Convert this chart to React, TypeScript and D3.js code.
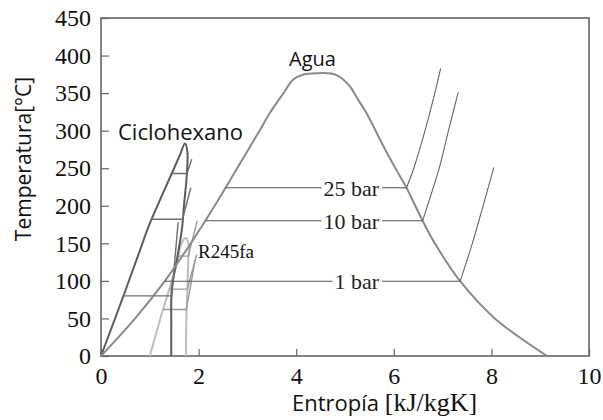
import React, { useEffect, useRef } from 'react';
import * as d3 from 'd3';

// Agua: saturation dome (s in kJ/kgK, T in °C)
const aguaDomeS = [0, 0.70, 1.31, 1.84, 2.33, 2.79, 3.25, 3.46, 3.74, 3.94, 4.15, 4.45, 4.72, 4.86, 5.10, 5.27, 5.44, 5.58, 5.75, 5.94, 6.13, 6.26, 6.59, 6.84, 7.36, 8.07, 9.14];
const aguaDomeT = [0, 50, 100, 150, 200, 250, 300, 323.5, 350, 368, 374.7, 376.5, 376, 373, 359, 341, 323.6, 306, 284, 261, 239, 224, 180, 150, 99.6, 50, 0];

// Agua isobars
const isoLabels = ['25 bar', '10 bar', '1 bar'];
const isoT = [224, 180, 99.6];
const isoSf = [2.55, 2.14, 1.30];
const isoSg = [6.26, 6.59, 7.36];
const isoLabelEndS = [5.70, 5.70, 5.70];
const sh25S = [6.26, 6.41, 6.64, 6.84, 6.96];
const sh25T = [224, 250, 300, 350, 383];
const sh10S = [6.59, 6.69, 6.93, 7.12, 7.32];
const sh10T = [180, 200, 250, 300, 351];
const sh1S = [7.36, 7.61, 7.83, 8.05];
const sh1T = [99.6, 150, 200, 251];

// Ciclohexano
const chDomeS = [0, 0.46, 0.80, 0.99, 1.45, 1.62, 1.72, 1.77, 1.76, 1.70, 1.66, 1.56, 1.45, 1.44, 1.44];
const chDomeT = [0, 80, 141, 175, 243, 268, 283, 272, 243, 200, 170, 130, 88, 40, 0];
const chIsoT = [243, 182, 80];
const chIsoL = [1.45, 1.03, 0.46];
const chIsoV = [1.76, 1.67, 1.45];
const chShS = [1.86, 1.84, 1.58];
const chShT = [262, 224, 178];

// R245fa
const rDomeS = [1.00, 1.13, 1.27, 1.40, 1.56, 1.64, 1.73, 1.80, 1.79, 1.77, 1.75, 1.74];
const rDomeT = [0, 30, 62, 89, 125, 148, 157, 148, 130, 89, 50, 0];
const rIsoT = [133, 89, 62];
const rIsoL = [1.57, 1.40, 1.27];
const rIsoV = [1.79, 1.77, 1.75];
const rShS = [1.97, 1.96, 1.93];
const rShT = [180, 135, 128];

const xTicks = [0, 2, 4, 6, 8, 10];
const yTicks = [0, 50, 100, 150, 200, 250, 300, 350, 400, 450];

const zip = (s: number[], t: number[]): [number, number][] => s.map((v, i) => [v, t[i]]);

const App = () => {
  const ref = useRef<SVGSVGElement>(null);

  useEffect(() => {
    const svg = d3.select(ref.current);
    svg.selectAll('*').remove();

    const x = d3.scaleLinear().domain([0, 10]).range([101, 589]);
    const y = d3.scaleLinear().domain([0, 450]).range([356, 18]);
    const serif = '"Liberation Serif", "Times New Roman", serif';
    const sans = '"Open Sans", sans-serif';

    const smooth = d3.line<[number, number]>()
      .x(d => x(d[0]))
      .y(d => y(d[1]))
      .curve(d3.curveCatmullRom.alpha(0.5));
    const straight = d3.line<[number, number]>()
      .x(d => x(d[0]))
      .y(d => y(d[1]));

    const g = svg.append('g');

    // axes (ticks inside)
    const bottom = g.append('g')
      .attr('transform', `translate(0,${y(0)})`)
      .call(d3.axisBottom(x).tickValues(xTicks).tickSizeInner(-7).tickSizeOuter(0).tickPadding(11));
    const left = g.append('g')
      .attr('transform', `translate(${x(0)},0)`)
      .call(d3.axisLeft(y).tickValues(yTicks).tickSizeInner(-8).tickSizeOuter(0).tickPadding(10));
    [bottom, left].forEach(a => {
      a.attr('font-family', null).attr('font-size', null);
      a.select('.domain').remove();
      a.selectAll('line').attr('stroke', '#666').attr('stroke-width', 1.2);
      a.selectAll('text')
        .style('font-family', serif).style('font-size', '24px').attr('fill', '#111');
    });

    // frame
    g.append('rect')
      .attr('x', x(0)).attr('y', y(450))
      .attr('width', x(10) - x(0)).attr('height', y(0) - y(450))
      .attr('fill', 'none').attr('stroke', '#666').attr('stroke-width', 1.6);

    // R245fa
    g.append('path').attr('d', smooth(zip(rDomeS, rDomeT)))
      .attr('fill', 'none').attr('stroke', '#bdbdbd').attr('stroke-width', 2);
    rIsoT.forEach((t, i) => {
      g.append('path').attr('d', straight([[rIsoL[i], t], [rIsoV[i], t], [rShS[i], rShT[i]]]))
        .attr('fill', 'none').attr('stroke', '#999').attr('stroke-width', 1.4);
    });

    // Ciclohexano
    g.append('path').attr('d', smooth(zip(chDomeS, chDomeT)))
      .attr('fill', 'none').attr('stroke', '#5c5c5c').attr('stroke-width', 2);
    chIsoT.forEach((t, i) => {
      g.append('path').attr('d', straight([[chIsoL[i], t], [chIsoV[i], t], [chShS[i], chShT[i]]]))
        .attr('fill', 'none').attr('stroke', '#6e6e6e').attr('stroke-width', 1.4);
    });

    // Agua
    g.append('path').attr('d', smooth(zip(aguaDomeS, aguaDomeT)))
      .attr('fill', 'none').attr('stroke', '#8a8a8a').attr('stroke-width', 2);
    [zip(sh25S, sh25T), zip(sh10S, sh10T), zip(sh1S, sh1T)].forEach(p => {
      g.append('path').attr('d', smooth(p))
        .attr('fill', 'none').attr('stroke', '#666').attr('stroke-width', 1.1);
    });
    isoT.forEach((t, i) => {
      const label = g.append('text')
        .attr('x', x(isoLabelEndS[i])).attr('y', y(t) + 8)
        .attr('text-anchor', 'end')
        .style('font-family', serif).style('font-size', '22px').attr('fill', '#222')
        .text(isoLabels[i]);
      const w = (label.node() as SVGTextElement).getComputedTextLength();
      const x1 = x(isoLabelEndS[i]);
      const x0 = x1 - w;
      g.append('line').attr('x1', x(isoSf[i])).attr('x2', x0 - 2).attr('y1', y(t)).attr('y2', y(t))
        .attr('stroke', '#555').attr('stroke-width', 1.1);
      g.append('line').attr('x1', x1 + 3).attr('x2', x(isoSg[i])).attr('y1', y(t)).attr('y2', y(t))
        .attr('stroke', '#555').attr('stroke-width', 1.1);
    });

    // fluid labels
    g.append('text').attr('x', 289).attr('y', 66).style('font-family', sans).style('font-size', '20px')
      .attr('fill', '#111').text('Agua');
    g.append('text').attr('x', 118).attr('y', 140).style('font-family', sans).style('font-size', '22px')
      .attr('fill', '#111').text('Ciclohexano');
    g.append('text').attr('x', 198).attr('y', 258).style('font-family', serif).style('font-size', '19px')
      .attr('fill', '#111').text('R245fa');

    // axis titles
    const xt = g.append('text').attr('x', 292).attr('y', 411).attr('fill', '#111');
    xt.append('tspan').style('font-family', sans).style('font-size', '22px').text('Entropía ');
    xt.append('tspan').style('font-family', serif).style('font-size', '26px').text('[kJ/kgK]');
    g.append('text')
      .attr('transform', `translate(31,159) rotate(-90)`)
      .attr('text-anchor', 'middle')
      .style('font-family', sans).style('font-size', '21px').attr('fill', '#111')
      .text('Temperatura[°C]');
  }, []);

  return (
    <div style={{ position: 'absolute', left: 0, top: 0 }}>
      <svg ref={ref} width={603} height={420} style={{ display: 'block', background: '#fff' }} />
    </div>
  );
};

export default App;
